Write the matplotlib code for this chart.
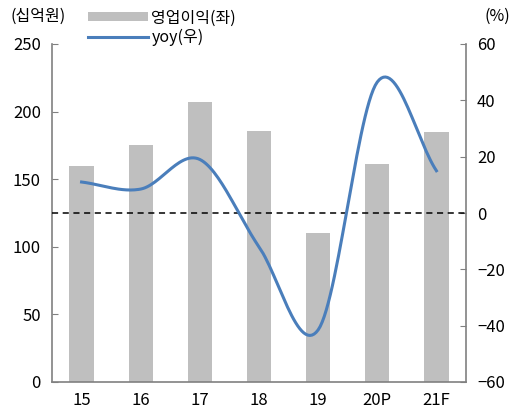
import numpy as np
import matplotlib
matplotlib.use("Agg")
import matplotlib.pyplot as plt
from matplotlib.patches import Patch
from matplotlib.lines import Line2D

plt.rcParams['font.family'] = ['Noto Sans CJK KR', 'DejaVu Sans']

years = ['15', '16', '17', '18', '19', '20P', '21F']
profit = [160, 175, 207, 186, 110, 161, 185]      # 영업이익 (십억원)
yoy = [11, 8.5, 19, -12, -41.5, 46.5, 15]        # yoy (%)

bar_color = '#bfbfbf'
line_color = '#4a7ebb'
spine_color = '#808080'


def catmull(xs, ys, n=30):
    # smoothed line like the spreadsheet's "smooth line" option
    xs = np.asarray(xs, float)
    ys = np.asarray(ys, float)
    px = np.concatenate([[2*xs[0]-xs[1]], xs, [2*xs[-1]-xs[-2]]])
    py = np.concatenate([[2*ys[0]-ys[1]], ys, [2*ys[-1]-ys[-2]]])
    outx, outy = [], []
    for i in range(1, len(px)-2):
        t = np.linspace(0, 1, n)
        for p, out in ((px, outx), (py, outy)):
            p0, p1, p2, p3 = p[i-1], p[i], p[i+1], p[i+2]
            out.extend(0.5*((2*p1) + (-p0+p2)*t + (2*p0-5*p1+4*p2-p3)*t**2
                            + (-p0+3*p1-3*p2+p3)*t**3))
    return np.array(outx), np.array(outy)


fig = plt.figure(figsize=(5.17, 4.12), dpi=100)
ax1 = fig.add_axes([52/517, 30/412, 414/517, 338/412])
x = np.arange(len(years))
ax1.bar(x, profit, width=0.41, color=bar_color, zorder=1)
ax1.set_xlim(-0.5, 6.5)
ax1.set_ylim(0, 250)
ax1.set_yticks(np.arange(0, 251, 50))
ax1.set_xticks(x)
ax1.set_xticklabels(years)

ax2 = ax1.twinx()
ax2.set_ylim(-60, 60)
ax2.set_yticks(np.arange(-60, 61, 20))
ax2.axhline(0, color='black', linestyle=(0, (4, 3)), linewidth=1.1, zorder=2)
sx, sy = catmull(x, yoy)
ax2.plot(sx, sy, color=line_color, linewidth=2.2, zorder=3)

for ax in (ax1, ax2):
    ax.spines['top'].set_visible(False)
    for s in ('left', 'right', 'bottom'):
        ax.spines[s].set_color(spine_color)
        ax.spines[s].set_linewidth(1.2)
    ax.tick_params(axis='y', direction='in', length=4, color=spine_color,
                   labelsize=12, pad=8)
ax1.tick_params(axis='x', length=0, labelsize=12, pad=7)
ax1.spines['right'].set_visible(False)
ax2.spines['left'].set_visible(False)
ax2.spines['bottom'].set_visible(False)

fig.text(10/517, 1-16/412, '(십억원)', fontsize=11.5, va='center', ha='left')
fig.text(497/517, 1-16/412, '(%)', fontsize=11.5, va='center', ha='center')

handles = [Patch(facecolor=bar_color, edgecolor='none'),
           Line2D([0], [0], color=line_color, linewidth=2.2)]
fig.legend(handles, ['영업이익(좌)', 'yoy(우)'], loc='upper left',
           bbox_to_anchor=(78/517, 1.0), frameon=False, fontsize=11.5,
           handlelength=3.8, handleheight=0.5, handletextpad=0.2,
           labelspacing=0.15, borderaxespad=0.2)

fig.savefig('out.png', dpi=100)
